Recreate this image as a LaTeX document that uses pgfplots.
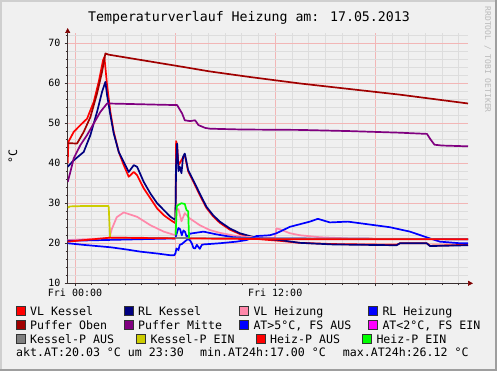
\documentclass[border=0pt]{standalone}
\usepackage{fontspec}
\setmainfont{DejaVu Sans Mono}
\usepackage{pgfplots}
\pgfplotsset{compat=1.18}
\usetikzlibrary{arrows.meta}
\definecolor{bgc}{HTML}{F0F0F0}
\definecolor{shadea}{HTML}{CFCFCF}
\definecolor{shadeb}{HTML}{9E9E9E}
\definecolor{gridc}{HTML}{DDDDDD}
\definecolor{mgridc}{HTML}{F2B6B6}
\definecolor{axisc}{HTML}{3A3030}
\definecolor{arrowc}{HTML}{7F0000}
\definecolor{cVLK}{HTML}{FF0000}
\definecolor{cRLK}{HTML}{000080}
\definecolor{cVLH}{HTML}{FF88AA}
\definecolor{cRLH}{HTML}{0000FF}
\definecolor{cPO}{HTML}{A00000}
\definecolor{cPM}{HTML}{800080}
\definecolor{cAT}{HTML}{0000FF}
\definecolor{cATf}{HTML}{FF00FF}
\definecolor{cKA}{HTML}{808080}
\definecolor{cKE}{HTML}{CCCC00}
\definecolor{cHA}{HTML}{FF0000}
\definecolor{cHE}{HTML}{00FF00}
\newcommand{\tickfont}{\fontsize{10}{12}\selectfont}
\newcommand{\legfont}{\fontsize{11.6}{13}\selectfont}
\newcommand{\legitem}[4]{%
  \filldraw[fill=#3, draw=black!80, line width=0.6pt] (#1,{371-#2}) rectangle ++(9,9);
  \node[anchor=base west, inner sep=0pt] at ({#1+14},{371-#2}) {\legfont #4};}
\begin{document}
\begin{tikzpicture}[x=1pt,y=1pt]
\fill[bgc] (0,0) rectangle (497,371);
\fill[shadea] (0,0) rectangle (2,371);
\fill[shadea] (0,369) rectangle (497,371);
\fill[shadeb] (495,0) rectangle (497,371);
\fill[shadeb] (0,0) rectangle (497,2);
\node[anchor=base, inner sep=0pt] at (249,{371-21.3}) {\fontsize{13.25}{15}\selectfont Temperaturverlauf Heizung am: 17.05.2013};
\node[anchor=west, inner sep=0pt, rotate=-90, text=black!27] at (487.7,{371-6.5}) {\fontsize{8}{9}\selectfont RRDTOOL / TOBI OETIKER};
\node[rotate=90, inner sep=0pt] at (13,{371-156.7}) {\legfont °C};
\begin{axis}[
  at={(67.7pt,87.7pt)}, anchor=south west,
  scale only axis, width=400.3pt, height=250.3pt,
  xmin=-0.44, xmax=23.56, ymin=10, ymax=72.5,
  axis lines=left,
  axis line style={draw=axisc, line width=0.7pt},
  x axis line style={-{Triangle[length=5pt,width=5pt,color=arrowc]}, shorten >=-5pt},
  y axis line style={-{Triangle[length=5pt,width=5pt,color=arrowc]}, shorten >=-5pt},
  xtick={0,6,12,18}, xticklabels={Fri 00:00,,Fri 12:00,},
  minor xtick={0,1,...,23},
  ytick={10,20,...,70},
  minor ytick={12,14,...,72},
  grid=both,
  major grid style={draw=mgridc, line width=0.7pt},
  minor grid style={draw=gridc, line width=0.7pt},
  tick align=outside, major tick length=3pt, minor tick length=2pt,
  tick style={draw=axisc, line width=0.6pt},
  /pgf/number format/assume math mode=true,
  xticklabel style={font=\tickfont, inner sep=0pt, yshift=-2pt},
  yticklabel style={font=\tickfont, inner sep=0pt, xshift=-4pt},
  every axis plot/.append style={line width=1.7pt, line join=round, mark=none},
]
% VL Kessel
\addplot[cVLK] coordinates {(-0.44,40.0) (-0.40,45.3) (-0.08,47.8) (0.32,49.5) (0.72,51.1) (1.12,55.3) (1.42,60.3) (1.68,65.7) (1.76,66.5) (1.92,59.5) (2.12,52.8) (2.32,47.8) (2.62,42.8) (2.92,39.5) (3.22,36.6) (3.52,37.8) (3.72,37.0) (4.12,33.7) (4.52,31.2) (4.92,28.7) (5.32,27.0) (5.72,25.8) (6.02,25.0) (6.06,45.5) (6.12,44.5) (6.20,39.5) (6.28,40.0) (6.48,41.5) (6.58,42.0) (6.78,38.0) (7.08,35.5) (7.48,32.0) (7.88,28.8) (8.28,26.7) (8.68,25.1) (9.28,23.4) (9.88,22.3) (10.48,21.6) (11.08,21.0) (12.28,20.6) (13.48,20.1) (15.46,19.8) (19.28,19.6) (19.48,20.0) (21.08,20.0) (21.28,19.4) (23.56,19.6)};
% RL Kessel
\addplot[cRLK] coordinates {(-0.44,39.1) (-0.08,40.7) (0.52,42.8) (0.92,47.0) (1.32,52.8) (1.62,57.8) (1.82,60.3) (1.92,57.0) (2.12,52.0) (2.32,47.4) (2.62,42.8) (2.92,40.3) (3.22,37.8) (3.52,39.5) (3.72,39.1) (4.12,35.3) (4.52,32.4) (4.92,30.0) (5.32,28.3) (5.72,26.6) (6.02,25.8) (6.06,40.0) (6.12,44.9) (6.20,38.0) (6.28,39.1) (6.38,37.5) (6.48,41.6) (6.58,42.4) (6.78,38.3) (7.08,35.8) (7.48,32.4) (7.88,29.1) (8.28,27.0) (8.68,25.4) (9.28,23.7) (9.88,22.5) (10.48,21.8) (11.08,21.2) (12.28,20.8) (13.48,20.1) (15.46,19.7) (19.28,19.5) (19.48,20.0) (21.08,20.0) (21.28,19.3) (23.56,19.5)};
% VL Heizung
\addplot[cVLH] coordinates {(-0.44,20.8) (2.06,21.3) (2.2,23.5) (2.5,26.5) (2.92,27.7) (3.72,26.6) (4.52,24.5) (5.32,22.9) (6.02,22.0) (6.08,28.3) (6.2,28.5) (6.38,25.5) (6.58,27.5) (6.88,26.2) (7.48,24.5) (8.08,23.3) (8.68,22.6) (9.68,21.8) (10.68,21.5) (11.98,21.3) (12.08,23.7) (12.28,23.5) (12.88,22.5) (13.48,22.0) (14.68,21.5) (16.48,21.2) (23.56,21.0)};
% RL Heizung
\addplot[cRLH] coordinates {(-0.44,20.6) (6.0,21.2) (6.03,21.5) (6.1,22.5) (6.2,23.8) (6.3,23.5) (6.4,22.0) (6.5,23.2) (6.6,22.8) (6.7,21.5) (6.9,22.4) (7.7,22.9) (8.5,22.2) (9.5,21.5) (10.5,21.3) (11.5,21.2) (23.56,21.0)};
% Puffer Oben
\addplot[cPO] coordinates {(-0.44,45.0) (0.12,44.9) (0.52,47.8) (0.92,51.5) (1.32,57.4) (1.62,62.8) (1.82,67.4) (2.0,67.1) (6.52,64.0) (8.08,62.9) (10.5,61.5) (13.48,59.9) (16.48,58.5) (19.48,57.1) (23.56,54.9)};
% Puffer Mitte
\addplot[cPM] coordinates {(-0.44,35.3) (-0.28,37.8) (-0.08,41.2) (0.32,44.5) (0.72,47.0) (1.12,49.9) (1.52,52.8) (1.92,54.9) (3.0,54.8) (5.0,54.6) (6.12,54.5) (6.42,52.4) (6.58,50.7) (6.9,50.5) (7.2,50.7) (7.4,49.5) (7.8,48.8) (8.1,48.6) (10,48.4) (13.48,48.3) (16.5,48.0) (19.5,47.6) (21.1,47.3) (21.3,46.0) (21.55,44.6) (22,44.4) (23.56,44.2)};
% AT>5C, FS AUS
\addplot[cAT] coordinates {(-0.44,20.0) (0.5,19.6) (2.12,19.0) (3.0,18.5) (3.92,17.9) (5.0,17.4) (5.72,17.0) (5.95,17.0) (6.02,17.5) (6.08,18.7) (6.2,18.3) (6.28,19.6) (6.4,19.8) (6.6,20.5) (6.75,21.0) (6.88,20.8) (7.0,20.0) (7.1,18.8) (7.2,18.7) (7.3,19.6) (7.48,18.6) (7.6,19.6) (7.68,19.7) (8.68,20.0) (9.68,20.4) (10.28,20.8) (10.88,21.8) (11.68,22.0) (12.08,22.5) (12.88,24.1) (14.08,25.4) (14.56,26.1) (15.28,25.2) (16.36,25.4) (17.08,25.0) (18.88,24.0) (20.08,22.9) (21.28,21.2) (21.88,20.4) (23.08,20.0) (23.56,20.03)};
% Kessel-P AUS
\addplot[cKA] coordinates {(2.1,21.4) (6.0,21.3) (23.56,21.0)};
% Kessel-P EIN
\addplot[cKE] coordinates {(-0.44,28.9) (-0.3,29.2) (0.5,29.3) (2.0,29.3) (2.02,29.0) (2.10,21.6)};
% Heiz-P AUS
\addplot[cHA] coordinates {(-0.44,20.4) (2.12,21.4) (6.02,21.2)};
\addplot[cHA] coordinates {(6.84,21.2) (12.0,21.0) (23.56,21.0)};
% Heiz-P EIN
\addplot[cHE] coordinates {(6.03,22.0) (6.1,29.2) (6.16,29.5) (6.38,30.0) (6.58,29.8) (6.68,28.3) (6.78,28.0) (6.84,21.2)};
\end{axis}
\legitem{16}{315.5}{cVLK}{VL Kessel}
\legitem{124}{315.5}{cRLK}{RL Kessel}
\legitem{239.3}{315.5}{cVLH}{VL Heizung}
\legitem{368.3}{315.5}{cRLH}{RL Heizung}
\legitem{16}{329.5}{cPO}{Puffer Oben}
\legitem{124}{329.5}{cPM}{Puffer Mitte}
\legitem{239.3}{329.5}{cAT}{AT>5°C, FS AUS}
\legitem{368.3}{329.5}{cATf}{AT<2°C, FS EIN}
\legitem{16}{343.5}{cKA}{Kessel-P AUS}
\legitem{136.5}{343.5}{cKE}{Kessel-P EIN}
\legitem{256}{343.5}{cHA}{Heiz-P AUS}
\legitem{362.3}{343.5}{cHE}{Heiz-P EIN}
\node[anchor=base west, inner sep=0pt] at (16,{371-357}) {\legfont akt.AT:20.03 °C um 23:30};
\node[anchor=base west, inner sep=0pt] at (200,{371-357}) {\legfont min.AT24h:17.00 °C};
\node[anchor=base west, inner sep=0pt] at (342.7,{371-357}) {\legfont max.AT24h:26.12 °C};
\end{tikzpicture}
\end{document}
